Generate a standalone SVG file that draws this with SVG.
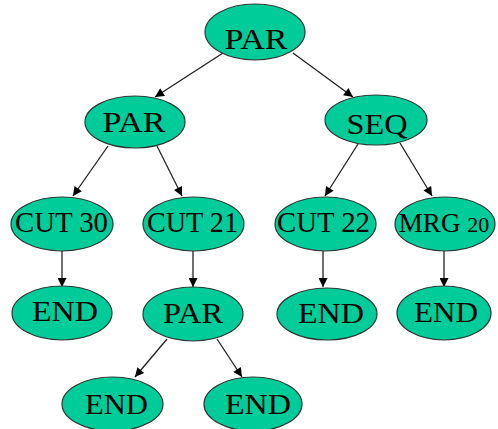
<svg xmlns="http://www.w3.org/2000/svg" width="498" height="429" viewBox="0 0 498 429">
<style>
.n ellipse{fill:#00CC99;stroke:#2a3a35;stroke-width:1.2}
.n text{font-family:"Liberation Serif","Times New Roman",serif;font-size:30px;fill:#000;text-anchor:middle}
.e line{stroke:#222;stroke-width:1.3;marker-end:url(#ah)}
</style>
<defs>
<marker id="ah" viewBox="0 0 10 10" refX="10" refY="5" markerWidth="11" markerHeight="9" markerUnits="userSpaceOnUse" orient="auto">
<path d="M0,0 L10,5 L0,10 z" fill="#000"/>
</marker>
</defs>
<rect width="498" height="429" fill="#fff"/>
<g class="e">
<line x1="223" y1="53" x2="155" y2="97"/>
<line x1="293" y1="53" x2="353" y2="97"/>
<line x1="108" y1="146" x2="73" y2="196"/>
<line x1="157" y1="146" x2="182" y2="196"/>
<line x1="358" y1="144" x2="325" y2="196"/>
<line x1="400" y1="143" x2="432" y2="196"/>
<line x1="62" y1="251" x2="62" y2="287"/>
<line x1="193" y1="251" x2="193" y2="287"/>
<line x1="323" y1="251" x2="323" y2="287"/>
<line x1="444" y1="251" x2="444" y2="287"/>
<line x1="167" y1="339" x2="135" y2="377"/>
<line x1="217" y1="339" x2="242" y2="377"/>
</g>
<g id="n1" class="n"><ellipse cx="255" cy="32" rx="50" ry="28"/><text x="256" y="49" font-size="32" textLength="63" lengthAdjust="spacingAndGlyphs">PAR</text></g>
<g id="n2" class="n"><ellipse cx="135" cy="122" rx="50" ry="26"/><text x="134" y="132" font-size="29" textLength="63" lengthAdjust="spacingAndGlyphs">PAR</text></g>
<g id="n3" class="n"><ellipse cx="376" cy="120" rx="51" ry="25"/><text x="377" y="134" textLength="61" lengthAdjust="spacingAndGlyphs">SEQ</text></g>
<g id="n4" class="n"><ellipse cx="62" cy="224" rx="51" ry="27"/><text x="61.5" y="232" textLength="93" lengthAdjust="spacingAndGlyphs">CUT 30</text></g>
<g id="n5" class="n"><ellipse cx="193.5" cy="224" rx="50.5" ry="27"/><text x="192.5" y="232" textLength="91" lengthAdjust="spacingAndGlyphs">CUT 21</text></g>
<g id="n6" class="n"><ellipse cx="325.5" cy="224" rx="50.5" ry="27"/><text x="323.5" y="232" textLength="93" lengthAdjust="spacingAndGlyphs">CUT 22</text></g>
<g id="n7" class="n"><ellipse cx="445" cy="224" rx="50" ry="27"/><text x="444" y="232"><tspan font-size="27">MRG </tspan><tspan font-size="22">20</tspan></text></g>
<g id="n8" class="n"><ellipse cx="62" cy="313" rx="50" ry="27"/><text x="65" y="321" font-size="29" textLength="66" lengthAdjust="spacingAndGlyphs">END</text></g>
<g id="n9" class="n"><ellipse cx="193" cy="314" rx="50" ry="27"/><text x="193" y="323" font-size="29" textLength="60" lengthAdjust="spacingAndGlyphs">PAR</text></g>
<g id="n10" class="n"><ellipse cx="327" cy="314" rx="50" ry="26"/><text x="331" y="323" font-size="29" textLength="66" lengthAdjust="spacingAndGlyphs">END</text></g>
<g id="n11" class="n"><ellipse cx="444" cy="313" rx="47" ry="27"/><text x="446" y="322" font-size="29" textLength="64" lengthAdjust="spacingAndGlyphs">END</text></g>
<g id="n12" class="n"><ellipse cx="112.5" cy="404" rx="50.5" ry="27"/><text x="116.5" y="414" font-size="29" textLength="63" lengthAdjust="spacingAndGlyphs">END</text></g>
<g id="n13" class="n"><ellipse cx="253" cy="404" rx="49" ry="27"/><text x="258" y="414" font-size="29" textLength="66" lengthAdjust="spacingAndGlyphs">END</text></g>
</svg>
